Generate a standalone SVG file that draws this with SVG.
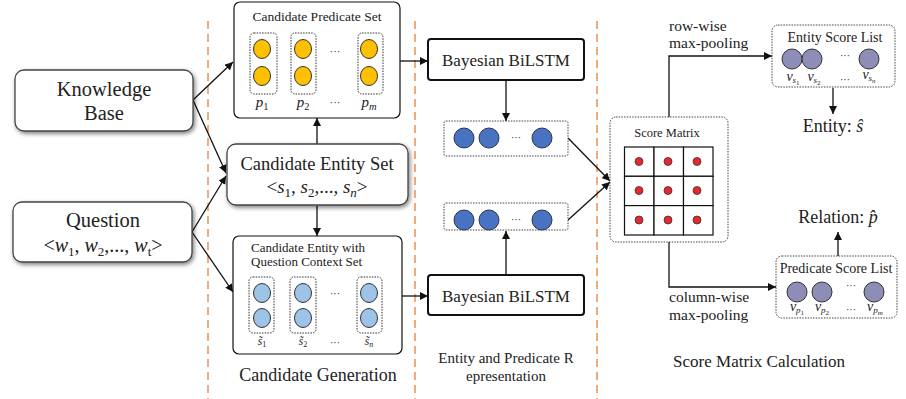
<svg xmlns="http://www.w3.org/2000/svg" width="906" height="399" viewBox="0 0 906 399">
  <defs>
    <marker id="arrow" viewBox="0 0 10 10" refX="10" refY="5" markerWidth="8" markerHeight="8" markerUnits="userSpaceOnUse" orient="auto">
      <path d="M0,0 L10,5 L0,10 z" fill="#111"/>
    </marker>
    <filter id="shadow" x="-10%" y="-20%" width="130%" height="150%">
      <feDropShadow dx="1.5" dy="2" stdDeviation="2" flood-color="#000" flood-opacity="0.5"/>
    </filter>
    <style>
      text { font-family: "Liberation Serif", "Times New Roman", serif; fill: #222; }
      .mid { text-anchor: middle; }
      .math { font-style: italic; }
      .sep { stroke: #F4A978; stroke-width: 2; stroke-dasharray: 8 5; fill: none; }
      .soft { fill: #fff; stroke: #444; stroke-width: 1.3; filter: url(#shadow); }
      .panel { fill: #fff; stroke: #111; stroke-width: 1.2; }
      .bilstm { fill: #fff; stroke: #111; stroke-width: 2; }
      .dots { fill: none; stroke: #333; stroke-width: 1; stroke-dasharray: 1.5 1.2; }
      .dotbox { fill: #fff; stroke: #444; stroke-width: 1; stroke-dasharray: 1.5 1.2; }
      .pred { fill: #FFC000; stroke: #333; stroke-width: 1; }
      .ent { fill: #9DC3E6; stroke: #333; stroke-width: 1; }
      .vec { fill: #4A72C2; stroke: #2A3550; stroke-width: 1; }
      .score { fill: #8E8DB8; stroke: #333; stroke-width: 1; }
      .cell { fill: #fff; stroke: #111; stroke-width: 1.2; }
      .red { fill: #E8262E; stroke: #333; stroke-width: 0.8; }
      .wire { fill: none; stroke: #111; stroke-width: 1.3; }
    </style>
  </defs>

  <rect width="906" height="399" fill="#fff"/>

  <!-- stage separators -->
  <g id="separators">
    <line class="sep" x1="208" y1="21" x2="208" y2="399"/>
    <line class="sep" x1="415" y1="21" x2="415" y2="399"/>
    <line class="sep" x1="597" y1="21" x2="597" y2="399"/>
  </g>

  <!-- connectors -->
  <g id="connectors">
    <line class="wire" x1="193" y1="100" x2="233" y2="62" marker-end="url(#arrow)"/>
    <line class="wire" x1="193" y1="100" x2="226" y2="173" marker-end="url(#arrow)"/>
    <line class="wire" x1="192" y1="232" x2="226" y2="176" marker-end="url(#arrow)"/>
    <line class="wire" x1="192" y1="232" x2="233" y2="292" marker-end="url(#arrow)"/>
    <line class="wire" x1="317" y1="144" x2="317" y2="118" marker-end="url(#arrow)"/>
    <line class="wire" x1="317" y1="206" x2="317" y2="236" marker-end="url(#arrow)"/>
    <line class="wire" x1="400" y1="61" x2="428" y2="61" marker-end="url(#arrow)"/>
    <line class="wire" x1="402" y1="296" x2="428" y2="296" marker-end="url(#arrow)"/>
    <line class="wire" x1="506" y1="80" x2="506" y2="121" marker-end="url(#arrow)"/>
    <line class="wire" x1="506" y1="275" x2="506" y2="231" marker-end="url(#arrow)"/>
    <line class="wire" x1="568" y1="138" x2="610" y2="181" marker-end="url(#arrow)"/>
    <line class="wire" x1="568" y1="220" x2="610" y2="182" marker-end="url(#arrow)"/>
    <polyline class="wire" points="669,117 669,56 772,56" marker-end="url(#arrow)"/>
    <polyline class="wire" points="669,242 669,287 776,287" marker-end="url(#arrow)"/>
    <line class="wire" x1="833" y1="88" x2="833" y2="114" marker-end="url(#arrow)"/>
    <line class="wire" x1="838" y1="256" x2="838" y2="232" marker-end="url(#arrow)"/>
  </g>

  <!-- inputs -->
  <g id="knowledge-base">
    <rect class="soft" x="15" y="70" width="178" height="61" rx="9"/>
    <text class="mid" x="104" y="96" font-size="20.5">Knowledge</text>
    <text class="mid" x="104" y="120" font-size="20.5">Base</text>
  </g>

  <g id="question">
    <rect class="soft" x="13" y="202" width="179" height="60" rx="9"/>
    <text class="mid" x="103" y="227" font-size="20.5">Question</text>
    <text class="mid" x="103" y="252" font-size="20">&lt;<tspan class="math">w</tspan><tspan font-size="13" dy="4">1</tspan><tspan dy="-4">, </tspan><tspan class="math">w</tspan><tspan font-size="13" dy="4">2</tspan><tspan dy="-4">,..., </tspan><tspan class="math">w</tspan><tspan font-size="13" dy="4">t</tspan><tspan dy="-4">&gt;</tspan></text>
  </g>

  <!-- candidate generation -->
  <g id="candidate-predicate-set">
    <rect class="panel" x="234" y="2" width="166" height="116" rx="6"/>
    <text class="mid" x="317" y="21" font-size="13.5">Candidate Predicate Set</text>
    <rect class="dots" x="250" y="33" width="27" height="61" rx="4"/>
    <rect class="dots" x="291" y="33" width="25" height="61" rx="4"/>
    <rect class="dots" x="358" y="33" width="25" height="61" rx="4"/>
    <ellipse class="pred" cx="262" cy="49" rx="8.5" ry="9.5"/>
    <ellipse class="pred" cx="262" cy="76" rx="8.5" ry="9.5"/>
    <ellipse class="pred" cx="303" cy="49" rx="8.5" ry="9.5"/>
    <ellipse class="pred" cx="303" cy="76" rx="8.5" ry="9.5"/>
    <ellipse class="pred" cx="369" cy="49" rx="8.5" ry="9.5"/>
    <ellipse class="pred" cx="369" cy="76" rx="8.5" ry="9.5"/>
    <text class="mid" x="335" y="55" font-size="11">···</text>
    <text class="mid" x="262" y="107" font-size="15"><tspan class="math">p</tspan><tspan font-size="10.5" dy="3">1</tspan></text>
    <text class="mid" x="303" y="107" font-size="15"><tspan class="math">p</tspan><tspan font-size="10.5" dy="3">2</tspan></text>
    <text class="mid" x="335" y="106" font-size="11">···</text>
    <text class="mid" x="369" y="107" font-size="15"><tspan class="math">p</tspan><tspan class="math" font-size="10.5" dy="3">m</tspan></text>
  </g>

  <g id="candidate-entity-set">
    <rect class="soft" x="227" y="144" width="181" height="61" rx="9" stroke-width="1.6"/>
    <text class="mid" x="317" y="170" font-size="18.5">Candidate Entity Set</text>
    <text class="mid" x="317" y="193" font-size="19">&lt;<tspan class="math">s</tspan><tspan font-size="13" dy="4">1</tspan><tspan dy="-4">, </tspan><tspan class="math">s</tspan><tspan font-size="13" dy="4">2</tspan><tspan dy="-4">,..., </tspan><tspan class="math">s</tspan><tspan class="math" font-size="13" dy="4">n</tspan><tspan dy="-4">&gt;</tspan></text>
  </g>

  <g id="candidate-entity-context-set">
    <rect class="panel" x="233" y="236" width="169" height="118" rx="6"/>
    <text x="251" y="252" font-size="13">Candidate Entity with</text>
    <text x="251" y="266" font-size="13">Question Context Set</text>
    <rect class="dots" x="249" y="277" width="25" height="56" rx="4"/>
    <rect class="dots" x="290" y="277" width="26" height="56" rx="4"/>
    <rect class="dots" x="357" y="277" width="25" height="56" rx="4"/>
    <ellipse class="ent" cx="262" cy="293" rx="8.5" ry="9.5"/>
    <ellipse class="ent" cx="262" cy="318" rx="8.5" ry="9.5"/>
    <ellipse class="ent" cx="303" cy="293" rx="8.5" ry="9.5"/>
    <ellipse class="ent" cx="303" cy="318" rx="8.5" ry="9.5"/>
    <ellipse class="ent" cx="369" cy="293" rx="8.5" ry="9.5"/>
    <ellipse class="ent" cx="369" cy="318" rx="8.5" ry="9.5"/>
    <text class="mid" x="335" y="297" font-size="10">···</text>
    <text class="mid" x="262" y="345" font-size="11.5"><tspan class="math">s̃</tspan><tspan font-size="8" dy="2">1</tspan></text>
    <text class="mid" x="303" y="345" font-size="11.5"><tspan class="math">s̃</tspan><tspan font-size="8" dy="2">2</tspan></text>
    <text class="mid" x="335" y="346" font-size="10">···</text>
    <text class="mid" x="369" y="345" font-size="11.5"><tspan class="math">s̃</tspan><tspan class="math" font-size="8" dy="2">n</tspan></text>
  </g>

  <text id="label-generation" class="mid" x="318" y="381" font-size="18">Candidate Generation</text>

  <!-- representation -->
  <g id="bilstm-predicate">
    <rect class="bilstm" x="428" y="39" width="156" height="41" rx="3"/>
    <text class="mid" x="506" y="66" font-size="17">Bayesian BiLSTM</text>
  </g>

  <g id="bilstm-entity">
    <rect class="bilstm" x="428" y="275" width="156" height="40" rx="3"/>
    <text class="mid" x="506" y="302" font-size="17">Bayesian BiLSTM</text>
  </g>

  <g id="predicate-vector">
    <rect class="dotbox" x="444" y="121" width="124" height="35" rx="2"/>
    <circle class="vec" cx="464" cy="138" r="10"/>
    <circle class="vec" cx="489" cy="138" r="10"/>
    <text class="mid" x="516" y="141" font-size="10">···</text>
    <circle class="vec" cx="542" cy="138" r="10"/>
  </g>

  <g id="entity-vector">
    <rect class="dotbox" x="444" y="203" width="124" height="27" rx="2"/>
    <circle class="vec" cx="464" cy="220" r="10"/>
    <circle class="vec" cx="489" cy="220" r="10"/>
    <text class="mid" x="516" y="223" font-size="10">···</text>
    <circle class="vec" cx="542" cy="220" r="10"/>
  </g>

  <text id="label-representation" class="mid" x="506" y="363" font-size="15">Entity and Predicate R<tspan x="506" dy="18">epresentation</tspan></text>

  <!-- score matrix calculation -->
  <g id="score-matrix">
    <rect class="dotbox" x="610" y="117" width="118" height="125" rx="6"/>
    <text class="mid" x="667" y="137" font-size="12.5">Score Matrix</text>
    <rect class="cell" x="624.5" y="147" width="29.5" height="29.3"/>
    <rect class="cell" x="654" y="147" width="29.5" height="29.3"/>
    <rect class="cell" x="683.5" y="147" width="29.5" height="29.3"/>
    <rect class="cell" x="624.5" y="176.3" width="29.5" height="29.3"/>
    <rect class="cell" x="654" y="176.3" width="29.5" height="29.3"/>
    <rect class="cell" x="683.5" y="176.3" width="29.5" height="29.3"/>
    <rect class="cell" x="624.5" y="205.6" width="29.5" height="29.4"/>
    <rect class="cell" x="654" y="205.6" width="29.5" height="29.4"/>
    <rect class="cell" x="683.5" y="205.6" width="29.5" height="29.4"/>
    <circle class="red" cx="639" cy="161.5" r="4"/>
    <circle class="red" cx="668" cy="161.5" r="4"/>
    <circle class="red" cx="697" cy="161.5" r="4"/>
    <circle class="red" cx="639" cy="190.5" r="4"/>
    <circle class="red" cx="668" cy="190.5" r="4"/>
    <circle class="red" cx="697" cy="190.5" r="4"/>
    <circle class="red" cx="639" cy="220" r="4"/>
    <circle class="red" cx="668" cy="220" r="4"/>
    <circle class="red" cx="697" cy="220" r="4"/>
  </g>

  <text id="label-row" x="669" y="31" font-size="15.5">row-wise<tspan x="669" dy="17">max-pooling</tspan></text>
  <text id="label-column" x="669" y="302" font-size="15.5">column-wise<tspan x="669" dy="18">max-pooling</tspan></text>

  <g id="entity-score-list">
    <rect class="dotbox" x="772" y="25" width="123" height="62" rx="6"/>
    <text class="mid" x="835" y="42" font-size="14">Entity Score List</text>
    <circle class="score" cx="792" cy="59" r="10"/>
    <circle class="score" cx="812" cy="59" r="10"/>
    <text class="mid" x="845" y="59" font-size="10">···</text>
    <circle class="score" cx="869" cy="59" r="10"/>
    <text class="mid" x="793" y="81" font-size="14"><tspan class="math">v</tspan><tspan class="math" font-size="9" dy="2">s</tspan><tspan font-size="7" dy="1.5">1</tspan></text>
    <text class="mid" x="814" y="81" font-size="14"><tspan class="math">v</tspan><tspan class="math" font-size="9" dy="2">s</tspan><tspan font-size="7" dy="1.5">2</tspan></text>
    <text class="mid" x="845" y="83" font-size="10">···</text>
    <text class="mid" x="869" y="79" font-size="14"><tspan class="math">v</tspan><tspan class="math" font-size="9" dy="2">s</tspan><tspan class="math" font-size="7" dy="1.5">n</tspan></text>
  </g>

  <text id="entity-output" class="mid" x="833" y="132" font-size="18">Entity: <tspan class="math">ŝ</tspan></text>

  <g id="predicate-score-list">
    <rect class="dotbox" x="776" y="256" width="121" height="62" rx="6"/>
    <text class="mid" x="836" y="273" font-size="14">Predicate Score List</text>
    <circle class="score" cx="797" cy="292" r="10"/>
    <circle class="score" cx="822" cy="292" r="10"/>
    <text class="mid" x="851" y="289" font-size="10">···</text>
    <circle class="score" cx="874" cy="292" r="10"/>
    <text class="mid" x="797" y="311" font-size="14"><tspan class="math">v</tspan><tspan class="math" font-size="9" dy="2">p</tspan><tspan font-size="7" dy="1.5">1</tspan></text>
    <text class="mid" x="822" y="311" font-size="14"><tspan class="math">v</tspan><tspan class="math" font-size="9" dy="2">p</tspan><tspan font-size="7" dy="1.5">2</tspan></text>
    <text class="mid" x="851" y="313" font-size="10">···</text>
    <text class="mid" x="875" y="311" font-size="14"><tspan class="math">v</tspan><tspan class="math" font-size="9" dy="2">p</tspan><tspan class="math" font-size="7" dy="1.5">m</tspan></text>
  </g>

  <text id="relation-output" class="mid" x="838" y="223" font-size="18">Relation: <tspan class="math">p̂</tspan></text>

  <text id="label-score" class="mid" x="759" y="367" font-size="17">Score Matrix Calculation</text>
</svg>
